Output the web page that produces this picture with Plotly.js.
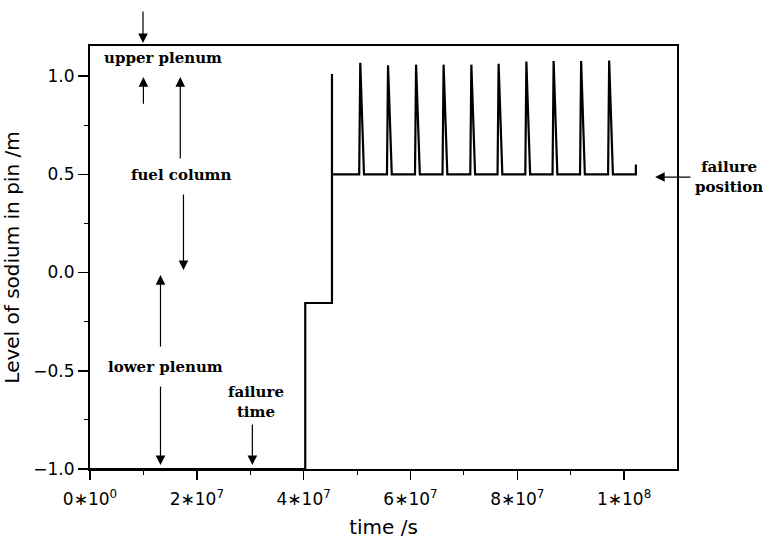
<!DOCTYPE html>
<html>
<head>
<meta charset="utf-8">
<script src="https://cdn.plot.ly/plotly-3.0.1.min.js"></script>
<style>html,body{margin:0;padding:0;background:#fff;}#chart{width:763px;height:539px;}</style>
</head>
<body>
<div id="chart"></div>
<script>
// time in units of 10^6 s, level of sodium in pin (m)
const timeMs = [
  0, 40.3, 40.3, 45.3, 45.3, 45.3,
  50.4, 50.6, 51.3,
  55.6, 55.8, 56.5,
  60.85, 61.05, 61.75,
  66.0, 66.2, 66.9,
  71.2, 71.4, 72.1,
  76.3, 76.5, 77.2,
  81.5, 81.7, 82.4,
  86.6, 86.8, 87.5,
  91.75, 91.95, 92.65,
  97.0, 97.2, 97.9,
  102.2, 102.2
];
const levelM = [
  -1.0, -1.0, -0.155, -0.155, 1.01, 0.5,
  0.5, 1.068, 0.5,
  0.5, 1.055, 0.5,
  0.5, 1.058, 0.5,
  0.5, 1.058, 0.5,
  0.5, 1.058, 0.5,
  0.5, 1.062, 0.5,
  0.5, 1.074, 0.5,
  0.5, 1.076, 0.5,
  0.5, 1.076, 0.5,
  0.5, 1.079, 0.5,
  0.5, 0.55
];
const xTickVals = [0, 2e7, 4e7, 6e7, 8e7, 1e8];
const xTickText = ['0∗10<sup>0</sup>', '2∗10<sup>7</sup>', '4∗10<sup>7</sup>', '6∗10<sup>7</sup>', '8∗10<sup>7</sup>', '1∗10<sup>8</sup>'];
const yTickVals = [-1.0, -0.5, 0.0, 0.5, 1.0];

// region labels inside the plot: [text, time (1e6 s), level]
const labelText = ['upper plenum', 'fuel column', 'lower plenum', 'failure<br>time'];
const labelTime = [13.6, 17.1, 14.1, 31.0];
const labelLevel = [1.092, 0.496, -0.481, -0.66];
// label outside the plot (paper coordinates)
const outLabelText = 'failure<br>position';
const outLabelX = 1.089, outLabelY = 0.690;

// arrows: head (time, level) and tail (time, level)
const arrowHeadT = [10.0, 16.9, 17.5, 13.2, 13.2, 30.4, 105.8];
const arrowHeadL = [0.995, 0.995, 0.013, -0.013, -0.98, -0.98, 0.486];
const arrowTailT = [10.0, 16.9, 17.5, 13.2, 13.2, 30.4, 112.7];
const arrowTailL = [0.852, 0.573, 0.405, -0.384, -0.573, -0.766, 0.486];
// arrow above the plot (paper x, paper y of head, tail offset in px)
const topArrowX = 0.0903, topArrowY = 1.007, topArrowLen = 33;

const trace = {
  x: timeMs.map(t => t * 1e6),
  y: levelM,
  type: 'scatter',
  mode: 'lines',
  line: {color: '#000', width: 2.2},
  hoverinfo: 'skip'
};

const annFont = {family: 'DejaVu Serif', size: 15, color: '#000'};
const annotations = [];
labelText.forEach((t, i) => {
  annotations.push({
    x: labelTime[i] * 1e6, y: labelLevel[i], xref: 'x', yref: 'y',
    text: '<b>' + t + '</b>', showarrow: false, font: annFont,
    xanchor: 'center', yanchor: 'middle'
  });
});
annotations.push({
  x: outLabelX, y: outLabelY, xref: 'paper', yref: 'paper',
  text: '<b>' + outLabelText + '</b>', showarrow: false, font: annFont,
  xanchor: 'center', yanchor: 'middle'
});
const arrowStyle = {text: '', showarrow: true, arrowhead: 2, arrowsize: 1.6, arrowwidth: 1.2,
  arrowcolor: '#000', standoff: 0, startstandoff: 0};
arrowHeadT.forEach((t, i) => {
  annotations.push(Object.assign({
    x: t * 1e6, y: arrowHeadL[i], xref: 'x', yref: 'y',
    ax: arrowTailT[i] * 1e6, ay: arrowTailL[i], axref: 'x', ayref: 'y'
  }, arrowStyle));
});
annotations.push(Object.assign({
  x: topArrowX, y: topArrowY, xref: 'paper', yref: 'paper',
  ax: 0, ay: -topArrowLen
}, arrowStyle));

const tickFont = {family: 'DejaVu Sans', size: 17, color: '#000'};
const titleFont = {family: 'DejaVu Sans', size: 20, color: '#000'};
const layout = {
  width: 763, height: 539,
  margin: {l: 90, r: 86, t: 46, b: 70},
  paper_bgcolor: '#fff', plot_bgcolor: '#fff',
  showlegend: false,
  xaxis: {
    range: [0, 1.099e8],
    tickvals: xTickVals, ticktext: xTickText,
    ticks: 'outside', ticklen: 9, tickwidth: 1.5, tickcolor: '#000',
    ticklabelstandoff: 5,
    minor: {dtick: 1e7, tick0: 0, ticks: 'outside', ticklen: 4, tickcolor: '#000', tickwidth: 1},
    showline: true, linecolor: '#000', linewidth: 2, mirror: true,
    showgrid: false, zeroline: false,
    tickfont: tickFont,
    title: {text: 'time /s', font: titleFont, standoff: 13}
  },
  yaxis: {
    range: [-1.0, 1.153],
    tickvals: yTickVals, tickformat: '.1f',
    ticks: 'outside', ticklen: 10, tickwidth: 1.5, tickcolor: '#000',
    minor: {dtick: 0.25, tick0: 0, ticks: 'outside', ticklen: 4, tickcolor: '#000', tickwidth: 1},
    showline: true, linecolor: '#000', linewidth: 2, mirror: true,
    showgrid: false, zeroline: false,
    tickfont: tickFont,
    title: {text: 'Level of sodium in pin /m', font: titleFont, standoff: 9}
  },
  annotations: annotations
};

Plotly.newPlot('chart', [trace], layout, {displayModeBar: false, staticPlot: true});
</script>
</body>
</html>
